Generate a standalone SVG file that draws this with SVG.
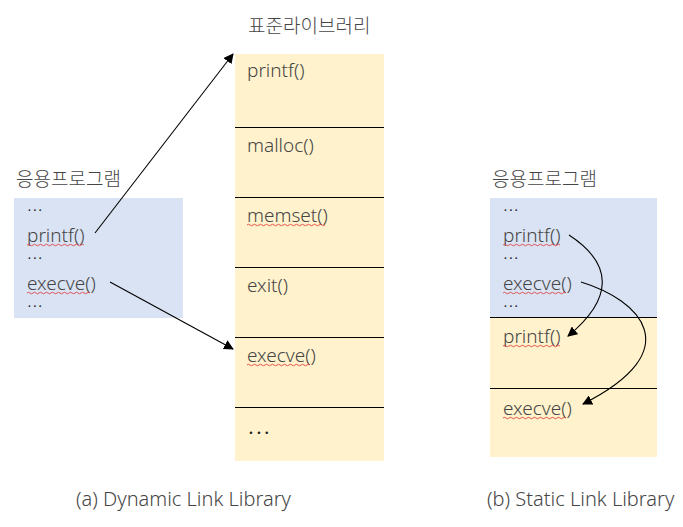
<svg xmlns="http://www.w3.org/2000/svg" width="683" height="527" viewBox="0 0 683 527">
<defs>
<style>
text{font-family:"Noto Sans","Noto Sans CJK KR",sans-serif;font-size:19px;fill:#454545;font-weight:300}
text.cap{font-size:20px}
text.dots{font-size:10px;font-weight:700;letter-spacing:2.6px;fill:#202020}
text.bigdots{font-size:14px;font-weight:700;letter-spacing:4px;fill:#202020}
.blue{fill:#DAE3F3}
.yel{fill:#FFF2CC}
.div{stroke:#000;stroke-width:1}
.conn{fill:none;stroke:#000;stroke-width:1.1}
.sq{fill:none;stroke:#e03030;stroke-width:0.8}
</style>
<marker id="ah" viewBox="0 0 10 10" refX="9" refY="5" markerWidth="10" markerHeight="10" markerUnits="userSpaceOnUse" orient="auto">
<path d="M0,0 L10,5 L0,10 z" fill="#000"/>
</marker>
</defs>
<rect width="683" height="527" fill="#fff"/>

<g id="app-left">
<text x="16" y="186">응용프로그램</text>
<rect class="blue" x="14" y="198" width="169" height="120"/>
<text class="dots" x="28" y="211">...</text>
<text x="27" y="242">printf()</text>
<text class="dots" x="28" y="259">...</text>
<text x="27" y="290">execve()</text>
<text class="dots" x="28" y="307">...</text>
</g>

<g id="stdlib">
<text x="248" y="33">표준라이브러리</text>
<rect class="yel" x="235" y="54" width="149" height="407"/>
<line class="div" x1="235" y1="127.5" x2="384" y2="127.5"/>
<line class="div" x1="235" y1="197.5" x2="384" y2="197.5"/>
<line class="div" x1="235" y1="267.5" x2="384" y2="267.5"/>
<line class="div" x1="235" y1="337.5" x2="384" y2="337.5"/>
<line class="div" x1="235" y1="407.5" x2="384" y2="407.5"/>
<text x="247" y="77">printf()</text>
<text x="247" y="152">malloc()</text>
<text x="247" y="222">memset()</text>
<text x="247" y="292">exit()</text>
<text x="247" y="362">execve()</text>
<text class="bigdots" x="249" y="434">...</text>
</g>

<g id="app-right">
<text x="492" y="186">응용프로그램</text>
<rect class="blue" x="490" y="198" width="167" height="119"/>
<rect class="yel" x="490" y="317" width="167" height="140"/>
<line class="div" x1="490" y1="317.5" x2="657" y2="317.5"/>
<line class="div" x1="490" y1="388.5" x2="657" y2="388.5"/>
<text class="dots" x="504" y="211">...</text>
<text x="503" y="242">printf()</text>
<text class="dots" x="504" y="259">...</text>
<text x="503" y="290">execve()</text>
<text class="dots" x="504" y="307">...</text>
<text x="503" y="343">printf()</text>
<text x="503" y="415">execve()</text>
</g>

<g id="squiggles">
<path class="sq" d="M27,245 q1.5,-1.5 3,0 t3,0 t3,0 t3,0 t3,0 t3,0 t3,0 t3,0 t3,0 t3,0 t3,0 t3,0 t3,0 t3,0 t3,0 t3,0 t3,0 t3,0 t3,0"/>
<path class="sq" d="M27,293 q1.5,-1.5 3,0 t3,0 t3,0 t3,0 t3,0 t3,0 t3,0 t3,0 t3,0 t3,0 t3,0 t3,0 t3,0 t3,0 t3,0 t3,0 t3,0 t3,0 t3,0 t3,0 t3,0"/>
<path class="sq" d="M247,225 q1.5,-1.5 3,0 t3,0 t3,0 t3,0 t3,0 t3,0 t3,0 t3,0 t3,0 t3,0 t3,0 t3,0 t3,0 t3,0 t3,0 t3,0 t3,0 t3,0 t3,0 t3,0 t3,0 t3,0 t3,0 t3,0 t3,0 t3,0"/>
<path class="sq" d="M247,365 q1.5,-1.5 3,0 t3,0 t3,0 t3,0 t3,0 t3,0 t3,0 t3,0 t3,0 t3,0 t3,0 t3,0 t3,0 t3,0 t3,0 t3,0 t3,0 t3,0 t3,0 t3,0 t3,0"/>
<path class="sq" d="M503,245 q1.5,-1.5 3,0 t3,0 t3,0 t3,0 t3,0 t3,0 t3,0 t3,0 t3,0 t3,0 t3,0 t3,0 t3,0 t3,0 t3,0 t3,0 t3,0 t3,0 t3,0"/>
<path class="sq" d="M503,293 q1.5,-1.5 3,0 t3,0 t3,0 t3,0 t3,0 t3,0 t3,0 t3,0 t3,0 t3,0 t3,0 t3,0 t3,0 t3,0 t3,0 t3,0 t3,0 t3,0 t3,0 t3,0 t3,0"/>
<path class="sq" d="M503,346 q1.5,-1.5 3,0 t3,0 t3,0 t3,0 t3,0 t3,0 t3,0 t3,0 t3,0 t3,0 t3,0 t3,0 t3,0 t3,0 t3,0 t3,0 t3,0 t3,0 t3,0"/>
<path class="sq" d="M503,418 q1.5,-1.5 3,0 t3,0 t3,0 t3,0 t3,0 t3,0 t3,0 t3,0 t3,0 t3,0 t3,0 t3,0 t3,0 t3,0 t3,0 t3,0 t3,0 t3,0 t3,0 t3,0 t3,0"/>
</g>

<g id="connectors">
<line class="conn" x1="95" y1="233" x2="233" y2="54" marker-end="url(#ah)"/>
<line class="conn" x1="110" y1="282" x2="233" y2="349" marker-end="url(#ah)"/>
<path class="conn" d="M569,235 C615,265 612,300 568,336" marker-end="url(#ah)"/>
<path class="conn" d="M581,282 C640,300 690,350 583,404" marker-end="url(#ah)"/>
</g>

<g id="captions">
<text class="cap" x="76" y="506">(a) Dynamic Link Library</text>
<text class="cap" x="487" y="506">(b) Static Link Library</text>
</g>
</svg>
